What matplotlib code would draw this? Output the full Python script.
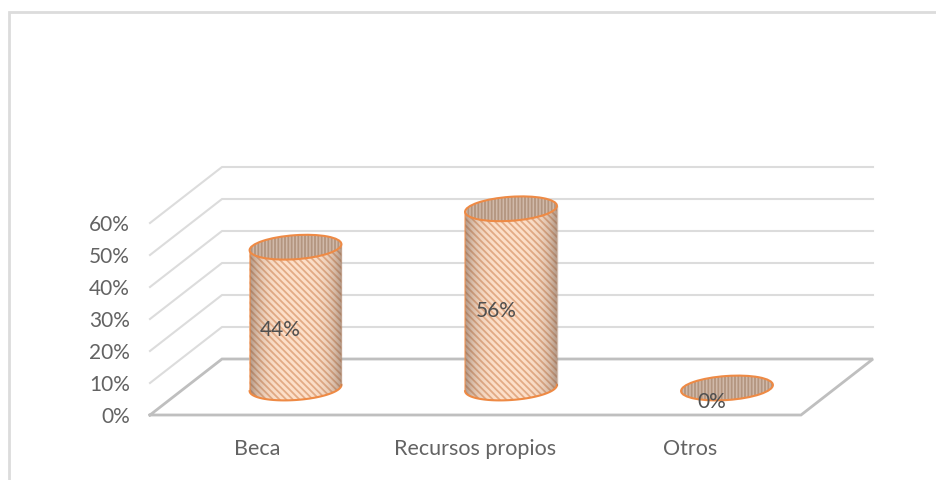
import numpy as np
import matplotlib
matplotlib.use("Agg")
import matplotlib.pyplot as plt
from matplotlib.patches import Ellipse, PathPatch
from matplotlib.path import Path

plt.rcParams["font.family"] = ["Lato", "DejaVu Sans"]
plt.rcParams["hatch.linewidth"] = 1.3

categorias = ["Beca", "Recursos propios", "Otros"]
valores = [44, 56, 0]
etiquetas = ["44%", "56%", "0%"]
ticks = [0, 10, 20, 30, 40, 50, 60]

# geometria en pixeles de la imagen
centros = [295.5, 511, 727]
x_categorias = [257, 475, 690]
y_base = 389
px_por_punto = 3.2
y_suelo = 416
desp_x, desp_y = 72, 56
x_izq, x_der = 150, 801
ancho = 92
alto_elipse = 24
giro = -4

GRIS = "#dcdcdc"
GRIS_SUELO = "#bfbfbf"
TEXTO = "#636363"
NARANJA = "#ee8a45"


def arco(cx, cy, t0, t1):
    t = np.radians(np.linspace(t0, t1, 60))
    a, b = ancho / 2, alto_elipse / 2
    g = np.radians(giro)
    x = a * np.cos(t) * np.cos(g) - b * np.sin(t) * np.sin(g)
    y = a * np.cos(t) * np.sin(g) + b * np.sin(t) * np.cos(g)
    return np.column_stack([cx + x, cy + y])


fig = plt.figure(figsize=(9.36, 4.81), dpi=100)
ax = fig.add_axes([0, 0, 1, 1])
ax.set_xlim(0, 936)
ax.set_ylim(481, 0)
ax.axis("off")

# marco
ax.plot([9, 9, 936], [481, 13, 13], color="#dcdcdc", lw=2, solid_joinstyle="miter")

# rejilla de pared y lateral
for t in ticks[1:]:
    y = y_suelo - t * px_por_punto
    ax.plot([x_izq, x_izq + desp_x, 873], [y, y - desp_y, y - desp_y], color=GRIS, lw=1.5, zorder=1)

# suelo
ax.plot([x_izq, x_izq + desp_x, 873, x_der, x_izq],
        [y_suelo, y_suelo - desp_y, y_suelo - desp_y, y_suelo, y_suelo],
        color=GRIS_SUELO, lw=2, zorder=2, solid_joinstyle="miter")

for t in ticks:
    ax.text(130, y_suelo - t * px_por_punto + 1, f"{t}%", ha="right", va="center",
            fontsize=15, color=TEXTO)

for cx, v, et, cat, xc in zip(centros, valores, etiquetas, categorias, x_categorias):
    y_top = y_base - v * px_por_punto
    if v > 0:
        # cuerpo del cilindro
        inferior = arco(cx, y_base, 180, 0)
        superior = arco(cx, y_top, 0, 180)
        pts = np.vstack([inferior, superior, inferior[:1]])
        cuerpo = Path(pts)
        ax.add_patch(PathPatch(cuerpo, facecolor="#fcdfc9", edgecolor="none", zorder=3))
        ax.add_patch(PathPatch(cuerpo, facecolor="none", edgecolor="#e3ab85", lw=0,
                               hatch="\\\\\\\\\\", zorder=4))
        # sombra hacia los bordes
        s = np.linspace(-1, 1, 120)
        sombra = np.abs(s)[None, :] ** 4
        colores = np.zeros((1, 120, 4))
        colores[..., :3] = np.array([0.42, 0.33, 0.28])
        colores[..., 3] = sombra * 0.5
        im = ax.imshow(colores, extent=[cx - ancho / 2, cx + ancho / 2, y_base + 20, y_top - 20],
                       aspect="auto", zorder=5, interpolation="bilinear")
        im.set_clip_path(PathPatch(cuerpo, transform=ax.transData))
        ax.set_xlim(0, 936)
        ax.set_ylim(481, 0)
        # contorno
        ax.plot(inferior[:, 0], inferior[:, 1], color=NARANJA, lw=1.5, zorder=6)
        ax.plot([inferior[0, 0], superior[-1, 0]], [inferior[0, 1], superior[-1, 1]],
                color=NARANJA, lw=1.2, alpha=0.6, zorder=6)
        ax.plot([inferior[-1, 0], superior[0, 0]], [inferior[-1, 1], superior[0, 1]],
                color="#a5795c", lw=1.0, alpha=0.5, zorder=6)
    # tapa
    ax.add_patch(Ellipse((cx, y_top), ancho, alto_elipse, angle=giro, facecolor="#d0b9a9",
                         edgecolor="#b3957f", hatch="|||||", lw=0, zorder=7))
    ax.add_patch(Ellipse((cx, y_top), ancho, alto_elipse, angle=giro, facecolor="none",
                         edgecolor=NARANJA, lw=1.5, zorder=8))
    # etiqueta de valor
    y_et = y_top + 13 if v == 0 else (y_base + y_top) / 2 + 11.5
    ax.text(cx - 15, y_et, et, ha="center", va="center",
            fontsize=15, color="#505050", zorder=9)
    ax.text(xc, 449, cat, ha="center", va="center",
            fontsize=15.5, color=TEXTO, zorder=9)

fig.savefig("out.png", dpi=100)
